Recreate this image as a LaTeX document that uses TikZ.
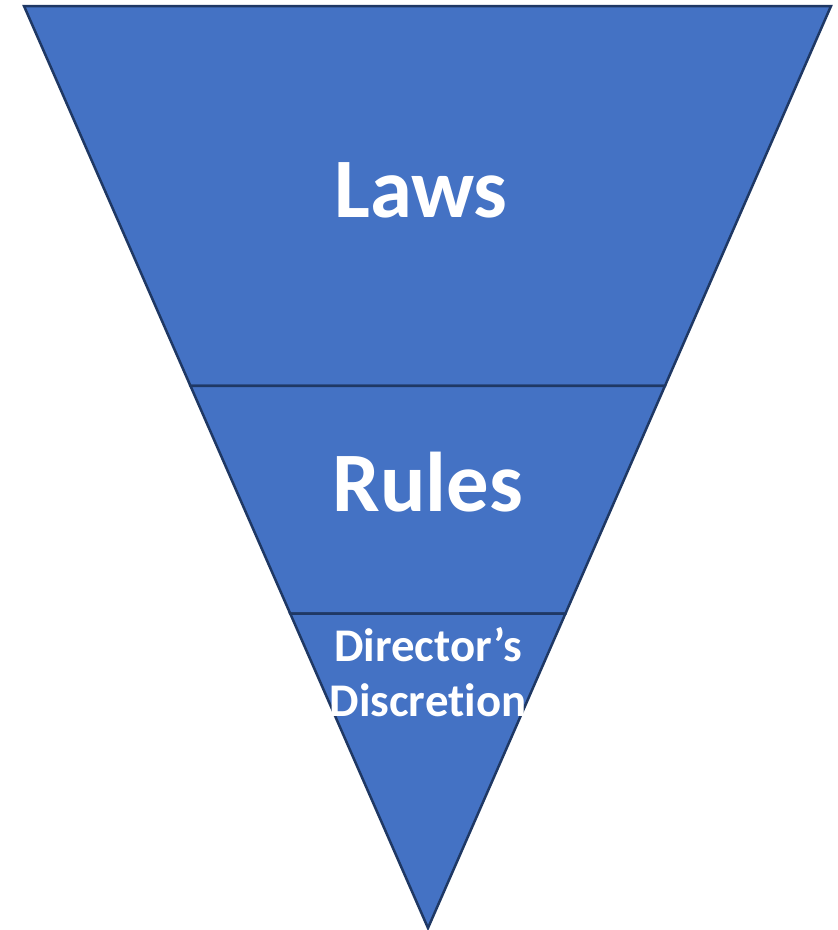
\documentclass[tikz,border=0pt]{standalone}
\usepackage{fontspec}
\setmainfont{Carlito}[Ligatures=NoCommon]
\usetikzlibrary{positioning, calc}
\definecolor{layerBlue}{HTML}{4472C4}
\definecolor{layerEdge}{HTML}{1F3864}

\begin{document}
\begin{tikzpicture}[x=1bp, y=-1bp, layer/.style={fill=layerBlue, draw=layerEdge, line width=2.5bp, line join=miter}, every node/.style={text=white, font=\bfseries\fontsize{85}{100}\selectfont}]
    \useasboundingbox (0,0) rectangle (838,930);
    \coordinate (topL) at (24,6);
    \coordinate (topR) at (831,6);
    \coordinate (tip) at (428,928);
    \coordinate (midL) at ($(topL)!0.412!(tip)$);
    \coordinate (midR) at ($(topR)!0.412!(tip)$);
    \coordinate (lowL) at ($(topL)!0.659!(tip)$);
    \coordinate (lowR) at ($(topR)!0.659!(tip)$);

    \filldraw [layer] (topL) -- (topR) -- (midR) -- (midL) -- cycle;
    \filldraw [layer] (midL) -- (midR) -- (lowR) -- (lowL) -- cycle;
    \filldraw [layer] (lowL) -- (lowR) -- (tip) -- cycle;

    \node (laws) at (421,190) {Laws};
    \node (rules) at (428,482) {Rules};
    \node (director) [align=center, font=\bfseries\fontsize{47}{55}\selectfont] at (428,672) {Director’s\\Discret\kern0pt ion};
\end{tikzpicture}
\end{document}
